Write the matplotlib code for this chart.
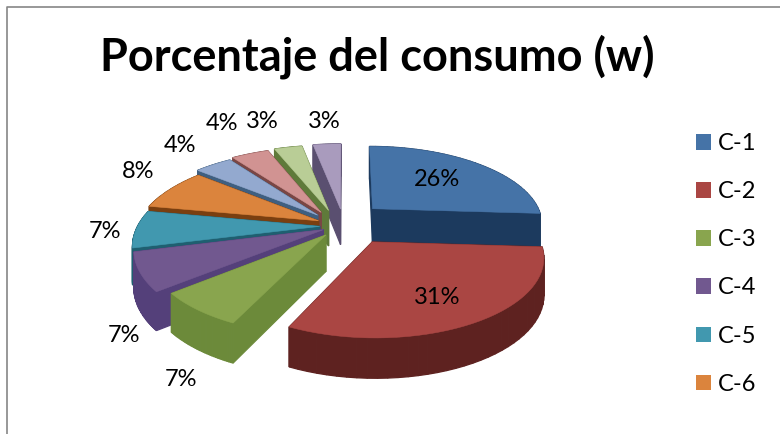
import numpy as np
import matplotlib
matplotlib.use('Agg')
import matplotlib.pyplot as plt
from matplotlib.patches import Polygon, Patch

plt.rcParams['font.family'] = ['Lato', 'DejaVu Sans']

# Datos del grafico
porcentajes = [26, 31, 7, 7, 7, 8, 4, 4, 3, 3]
etiquetas = ['C-1', 'C-2', 'C-3', 'C-4', 'C-5', 'C-6']
colores = ['#4573A7', '#AA4643', '#89A54E', '#71588F', '#4198AF',
           '#DB843D', '#93A9CF', '#D19392', '#B9CD96', '#A99BBD']
# Color de las caras laterales de cada sector
colores_lado = ['#1C3A5E', '#5E2220', '#6C8A3A', '#54407A', '#1F5F70',
                '#7A3F10', '#3F5F80', '#7A4644', '#5F7A3A', '#5A4F70']
# Posicion de las etiquetas de porcentaje (pixeles)
pos_etiquetas = [(437, 180), (437, 297), (181, 380), (124, 336), (105, 232),
                 (138, 172), (180, 145), (222, 124), (262, 121), (324, 121)]

# Geometria de la proyeccion
cx, cy = 340, 222
rx, ry = 182, 82.5
persp = 0.2
explode = 0.15
grosor = 36
# Ajuste fino por sector: radio y desplazamiento en pixeles
escala = [0.93, 0.90, 0.93, 1, 1, 1, 1, 1, 1, 1]
ajuste = [(13, -5), (18, 9), (3, 3), (8, 2), (7, 4), (3, 4),
          (-4, 2), (-6, 1), (-4, 0), (3, -1)]


def proyectar(u, v, z=0.0):
    s = 1 / (1 + persp * v)
    return cx + rx * u * s, cy - ry * v * s + z * np.sqrt(s)


fig = plt.figure(figsize=(7.8, 4.34), dpi=100)
ax = fig.add_axes([0, 0, 1, 1])
ax.set_xlim(0, 780)
ax.set_ylim(434, 0)
ax.axis('off')

# Borde del area del grafico
ax.plot([7, 7, 780], [434, 7, 7], color='#868686', lw=1.2)

# Construir sectores, angulos en sentido horario desde arriba
total = sum(porcentajes)
bordes = np.radians(np.cumsum([0] + porcentajes) * 360 / total)
sectores = []
for i in range(len(porcentajes)):
    a0, a1 = bordes[i], bordes[i + 1]
    medio = (a0 + a1) / 2
    du, dv = explode * np.sin(medio), explode * np.cos(medio)
    ang = np.linspace(a0, a1, 40)
    u = np.concatenate([[du], du + escala[i] * np.sin(ang)])
    v = np.concatenate([[dv], dv + escala[i] * np.cos(ang)])
    sectores.append((dv, i, u, v))

# Dibujar de atras hacia adelante
sectores.sort(key=lambda t: -t[0])
for n, (dv, i, u, v) in enumerate(sectores):
    zorden = 2 + n
    dx, dy = ajuste[i]
    caras = []
    for j in range(len(u)):
        k = (j + 1) % len(u)
        caras.append(((v[j] + v[k]) / 2, j, k))
    caras.sort(key=lambda t: -t[0])
    for _, j, k in caras:
        quad = [proyectar(u[j], v[j]), proyectar(u[k], v[k]),
                proyectar(u[k], v[k], grosor), proyectar(u[j], v[j], grosor)]
        quad = [(x + dx, y + dy) for x, y in quad]
        ax.add_patch(Polygon(quad, closed=True, facecolor=colores_lado[i],
                             edgecolor=colores_lado[i], lw=0.9, zorder=zorden))
    tapa = [proyectar(a, b) for a, b in zip(u, v)]
    tapa = [(x + dx, y + dy) for x, y in tapa]
    ax.add_patch(Polygon(tapa, closed=True, facecolor=colores[i],
                         edgecolor=colores[i], lw=0.4, zorder=zorden + 0.5))

for p, (x, y) in zip(porcentajes, pos_etiquetas):
    ax.text(x, y, f'{p}%', fontsize=17, ha='center', va='center', color='black', zorder=30)

ax.text(377, 57, 'Porcentaje del consumo (w)', fontsize=32.5, fontweight='bold',
        ha='center', va='center', color='black')

manejadores = [Patch(facecolor=c, edgecolor='none') for c in colores[:6]]
ax.legend(manejadores, etiquetas, loc='upper left', bbox_to_anchor=(696 / 780, 1 - 133 / 434),
          frameon=False, fontsize=17, handlelength=0.64, handleheight=0.64,
          handletextpad=0.3, labelspacing=1.15, borderpad=0, borderaxespad=0)

fig.savefig('out.png', dpi=100)
